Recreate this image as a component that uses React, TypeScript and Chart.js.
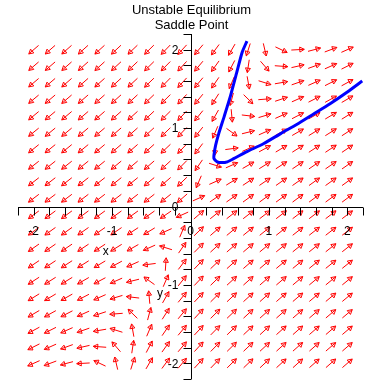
import React, { useEffect, useRef } from "react";
import { Chart, registerables } from "chart.js";

Chart.register(...registerables);

// ---- data ----
const titleLines = ["Unstable Equilibrium", "Saddle Point"];
const axisNames = ["x", "y"];

// direction-field grid (20 x 20)
const gridX = [-2, -1.7895, -1.5789, -1.3684, -1.1579, -0.9474, -0.7368, -0.5263, -0.3158, -0.1053,
  0.1053, 0.3158, 0.5263, 0.7368, 0.9474, 1.1579, 1.3684, 1.5789, 1.7895, 2];
const gridY = [-2, -1.7895, -1.5789, -1.3684, -1.1579, -0.9474, -0.7368, -0.5263, -0.3158, -0.1053,
  0.1053, 0.3158, 0.5263, 0.7368, 0.9474, 1.1579, 1.3684, 1.5789, 1.7895, 2];

// linear system coefficients: x' = a*x + b*y ; y' = c*x + d*y
const rateX = [1, -0.44];
const rateY = [0.75, -0.5];

// solution curve
const trajX = [0.72, 0.66, 0.59, 0.51, 0.43, 0.36, 0.32, 0.30, 0.30, 0.34, 0.40, 0.47, 0.55, 0.72, 0.93, 1.15, 1.36, 1.57, 1.78, 2.00, 2.19];
const trajY = [2.11, 1.97, 1.71, 1.41, 1.15, 0.93, 0.78, 0.66, 0.61, 0.57, 0.56, 0.57, 0.61, 0.70, 0.80, 0.93, 1.05, 1.18, 1.31, 1.46, 1.60];

// ticks
const labelTicks = [-2, -1, 0, 1, 2];
const labelTexts = ["-2", "-1", "0", "1", "2"];
const minorTicks = [-2.2, -2, -1.8, -1.6, -1.4, -1.2, -1, -0.8, -0.6, -0.4, -0.2, 0,
  0.2, 0.4, 0.6, 0.8, 1, 1.2, 1.4, 1.6, 1.8, 2, 2.2];

const FONT = '"Liberation Sans", Arial, Helvetica, sans-serif';

const fieldPlugin = {
  id: "fieldPlugin",
  beforeDatasetsDraw(chart: any) {
    const { ctx } = chart;
    const xs = chart.scales.x;
    const ys = chart.scales.y;
    const ppx = xs.getPixelForValue(1) - xs.getPixelForValue(0);
    const ppy = ys.getPixelForValue(0) - ys.getPixelForValue(1);
    ctx.save();

    // arrows
    ctx.strokeStyle = "#ff0000";
    ctx.lineWidth = 1;
    const L = 13;
    for (const gx of gridX) {
      for (const gy of gridY) {
        const vx = rateX[0] * gx + rateX[1] * gy;
        const vy = rateY[0] * gx + rateY[1] * gy;
        let dx = vx * ppx;
        let dy = -vy * ppy;
        const m = Math.hypot(dx, dy) || 1;
        dx /= m; dy /= m;
        const cx = xs.getPixelForValue(gx);
        const cy = ys.getPixelForValue(gy);
        const tx = cx - dx * L / 2, ty = cy - dy * L / 2;
        const hx = cx + dx * L / 2, hy = cy + dy * L / 2;
        ctx.beginPath();
        ctx.moveTo(tx, ty);
        ctx.lineTo(hx, hy);
        ctx.stroke();
        const bx = hx - dx * 4.5, by = hy - dy * 4.5;
        const nx = -dy * 2.5, ny = dx * 2.5;
        ctx.beginPath();
        ctx.moveTo(hx, hy);
        ctx.lineTo(bx + nx, by + ny);
        ctx.lineTo(bx - nx, by - ny);
        ctx.closePath();
        ctx.stroke();
      }
    }

    // axes
    const x0 = Math.round(xs.getPixelForValue(0)) + 0.5;
    const y0 = Math.round(ys.getPixelForValue(0)) + 0.5;
    ctx.strokeStyle = "#000000";
    ctx.lineWidth = 1;
    ctx.beginPath();
    ctx.moveTo(xs.getPixelForValue(-2.2), y0);
    ctx.lineTo(xs.getPixelForValue(2.2), y0);
    ctx.moveTo(x0, ys.getPixelForValue(2.2));
    ctx.lineTo(x0, ys.getPixelForValue(-2.2));
    for (const t of minorTicks) {
      const px = Math.round(xs.getPixelForValue(t)) + 0.5;
      ctx.moveTo(px, y0);
      ctx.lineTo(px, y0 + 8);
      const py = Math.round(ys.getPixelForValue(t)) + 0.5;
      ctx.moveTo(x0, py);
      ctx.lineTo(x0 - 8, py);
    }
    ctx.stroke();

    // tick labels
    ctx.fillStyle = "#000000";
    ctx.font = "12px " + FONT;
    ctx.textAlign = "center";
    ctx.textBaseline = "alphabetic";
    labelTicks.forEach((t, i) => {
      ctx.fillText(labelTexts[i], xs.getPixelForValue(t), y0 + 27);
    });
    ctx.textAlign = "right";
    ctx.textBaseline = "middle";
    labelTicks.forEach((t, i) => {
      ctx.fillText(labelTexts[i], x0 - 13, ys.getPixelForValue(t) + 1);
    });

    // axis names
    ctx.textAlign = "center";
    ctx.textBaseline = "alphabetic";
    ctx.fillText(axisNames[0], xs.getPixelForValue(-1.08), ys.getPixelForValue(-0.62));
    ctx.fillText(axisNames[1], xs.getPixelForValue(-0.39), ys.getPixelForValue(-1.15));

    // title
    ctx.font = "13px " + FONT;
    ctx.textAlign = "center";
    ctx.fillText(titleLines[0], x0, 14);
    ctx.fillText(titleLines[1], x0, 29);

    ctx.restore();
  },
};

export default function App() {
  const ref = useRef<HTMLCanvasElement | null>(null);
  useEffect(() => {
    if (!ref.current) return;
    const chart = new Chart(ref.current, {
      type: "scatter",
      data: {
        datasets: [
          {
            data: trajX.map((x, i) => ({ x, y: trajY[i] })),
            showLine: true,
            borderColor: "#0000ff",
            backgroundColor: "#0000ff",
            borderWidth: 3,
            pointRadius: 0,
            tension: 0.2,
            fill: false,
          },
        ],
      },
      options: {
        animation: false,
        responsive: false,
        devicePixelRatio: 1,
        layout: { padding: { left: 18, right: 19, top: 34, bottom: 3 } },
        plugins: { legend: { display: false }, tooltip: { enabled: false }, title: { display: false } },
        scales: {
          x: { type: "linear", min: -2.2, max: 2.2, display: false },
          y: { type: "linear", min: -2.2, max: 2.2, display: false },
        },
      },
      plugins: [fieldPlugin],
    });
    return () => chart.destroy();
  }, []);
  return (
    <div style={{ position: "absolute", left: 0, top: 0, width: 382, height: 382, background: "#fff" }}>
      <canvas ref={ref} width={382} height={382} style={{ display: "block" }} />
    </div>
  );
}
